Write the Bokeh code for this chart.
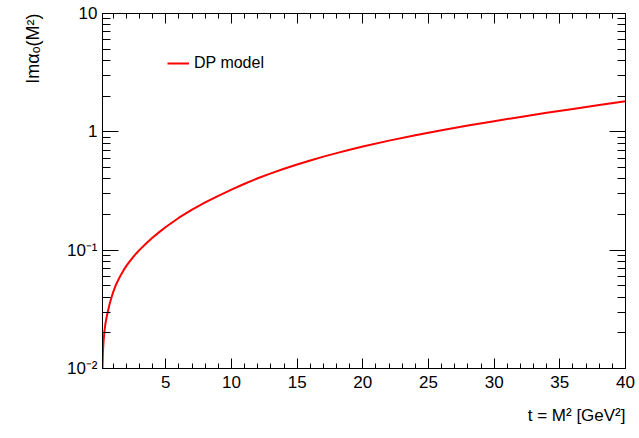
from bokeh.plotting import figure
from bokeh.models import (Range1d, LogAxis, LinearAxis, SingleIntervalTicker, LogTicker,
                          Title, Legend, LegendItem, ColumnDataSource, CustomLabelingPolicy)
from bokeh.embed import file_html
from bokeh.resources import INLINE

# ---- data ----
t_values = [0.18, 0.20, 0.23, 0.27, 0.32, 0.40, 0.50, 0.60, 0.70, 0.80, 0.90, 1.0, 1.2,
            1.4, 1.6, 1.8, 2.0, 2.25, 2.5, 2.75, 3.0, 3.5, 4.0, 4.5, 5.0, 6.0, 7.0, 8.0,
            9.0, 10.0, 11.0, 12.0, 13.0, 14.0, 15.0, 16.0, 17.0, 18.0, 19.0, 20.0, 22.0,
            24.0, 26.0, 28.0, 30.0, 32.0, 34.0, 36.0, 38.0, 40.0]
im_alpha = [0.0100, 0.0125, 0.0150, 0.0175, 0.0203, 0.0238, 0.0274, 0.0308, 0.0343,
            0.0377, 0.0410, 0.0444, 0.0508, 0.0566, 0.0624, 0.0681, 0.0736, 0.0804,
            0.0871, 0.0938, 0.1005, 0.1140, 0.1280, 0.1420, 0.1570, 0.1880, 0.2200,
            0.2530, 0.2880, 0.3250, 0.3640, 0.4050, 0.4460, 0.4870, 0.5300, 0.5730,
            0.6170, 0.6610, 0.7060, 0.7510, 0.8430, 0.9370, 1.0330, 1.1310, 1.2310,
            1.3370, 1.4470, 1.5620, 1.6850, 1.8150]
series_name = "DP model"
y_tick_values = [0.01, 0.1, 1, 10]
y_tick_labels = ["10\u207b\u00b2", "10\u207b\u00b9", "1", "10"]
x_label = "t = M\u00b2 [GeV\u00b2]"
y_label = "Im\u03b1\u2092(M\u00b2)"

FONT = "Liberation Sans"

p = figure(width=639, height=438, output_backend="svg", toolbar_location=None,
           y_axis_type="log", x_range=Range1d(0.18, 40), y_range=Range1d(0.01, 10),
           min_border_left=101, min_border_right=14, min_border_top=13, min_border_bottom=70,
           x_axis_location=None, y_axis_location=None)
p.grid.visible = False
p.outline_line_color = "black"
p.outline_line_width = 1
p.background_fill_color = "white"
p.border_fill_color = "white"

src = ColumnDataSource(dict(t=t_values, y=im_alpha))
r = p.line("t", "y", source=src, line_color="#ff0000", line_width=2)

hide_labels = CustomLabelingPolicy(code="for (const i of indices) indices.unset(i); return indices")

def style_common(ax, labels):
    ax.major_tick_out = 0
    ax.minor_tick_out = 0
    ax.axis_line_color = "black"
    ax.major_tick_line_color = "black"
    ax.minor_tick_line_color = "black"
    ax.major_label_text_font = FONT
    ax.major_label_text_font_size = "17px"
    ax.major_label_text_color = "black"
    if not labels:
        ax.major_label_policy = hide_labels
        ax.major_label_text_font_size = "1px"
        ax.major_label_standoff = 0

def style_x(ax, labels=True):
    ax.ticker = SingleIntervalTicker(interval=5, num_minor_ticks=5)
    ax.major_tick_in = 10
    ax.minor_tick_in = 5
    ax.major_label_standoff = 7
    style_common(ax, labels)

def style_y(ax, labels=True):
    ax.ticker = LogTicker(num_minor_ticks=10)
    ax.major_tick_in = 16
    ax.minor_tick_in = 8
    ax.major_label_standoff = 5
    ax.major_label_overrides = {v: s for v, s in zip(y_tick_values, y_tick_labels)}
    style_common(ax, labels)

xb = LinearAxis(); style_x(xb)
xt = LinearAxis(); style_x(xt, labels=False)
yl = LogAxis(); style_y(yl)
yr = LogAxis(); style_y(yr, labels=False)
p.add_layout(xb, "below")
p.add_layout(xt, "above")
p.add_layout(yl, "left")
p.add_layout(yr, "right")

# axis titles, right-aligned as in the reference
p.add_layout(Title(text=x_label, align="right", text_font=FONT, text_font_size="17px",
                   text_font_style="normal", text_color="black", standoff=26), "below")
p.add_layout(Title(text=y_label, align="right", text_font=FONT, text_font_size="18px",
                   text_font_style="normal", text_color="black", standoff=41), "left")

legend = Legend(items=[LegendItem(label=series_name, renderers=[r])], location=(65, 296),
                padding=0, margin=0, spacing=0, glyph_width=22, glyph_height=16,
                label_height=16, label_standoff=5, border_line_color=None,
                background_fill_alpha=0, label_text_font=FONT, label_text_font_size="16px",
                label_text_color="black")
p.add_layout(legend, "center")

open("out.html", "w").write(file_html(p, INLINE))
